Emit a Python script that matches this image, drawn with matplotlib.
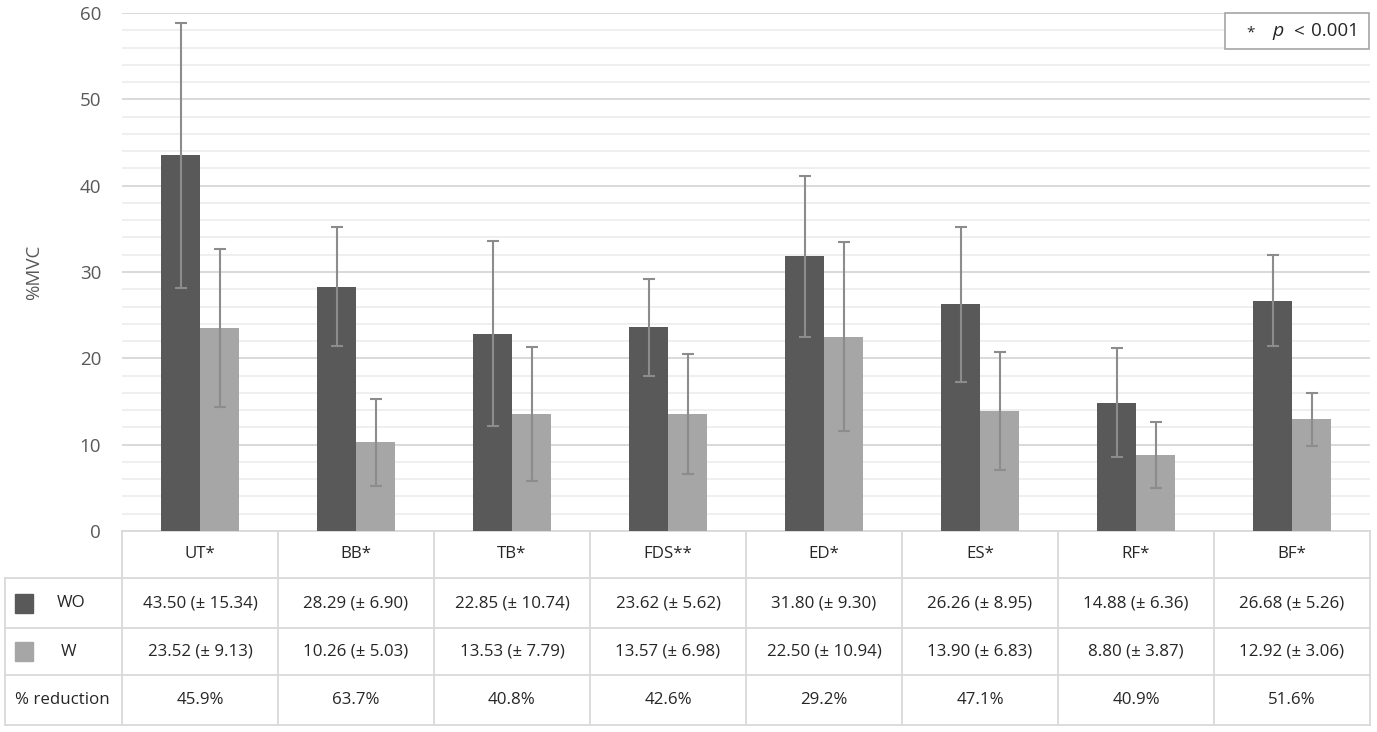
import numpy as np
import matplotlib.pyplot as plt
from matplotlib.patches import Rectangle

plt.rcParams['font.family'] = ['Open Sans', 'DejaVu Sans']

#%% data
muscles = ['UT*', 'BB*', 'TB*', 'FDS**', 'ED*', 'ES*', 'RF*', 'BF*']
woMean = [43.50, 28.29, 22.85, 23.62, 31.80, 26.26, 14.88, 26.68]
woSD = [15.34, 6.90, 10.74, 5.62, 9.30, 8.95, 6.36, 5.26]
wMean = [23.52, 10.26, 13.53, 13.57, 22.50, 13.90, 8.80, 12.92]
wSD = [9.13, 5.03, 7.79, 6.98, 10.94, 6.83, 3.87, 3.06]
reduction = ['45.9%', '63.7%', '40.8%', '42.6%', '29.2%', '47.1%', '40.9%', '51.6%']
yTicks = [0, 10, 20, 30, 40, 50, 60]

W, H = 1377, 732
darkC = '#595959'
lightC = '#a6a6a6'
gridC = '#d9d9d9'
textC = '#262626'

fig = plt.figure(figsize=(W / 100, H / 100), dpi=100)

#%% bar axes
x0, x1, yTop, yBot = 122, 1370, 13, 531
ax = fig.add_axes([x0 / W, 1 - yBot / H, (x1 - x0) / W, (yBot - yTop) / H])
x = np.arange(len(muscles))
bw = 0.25
errKw = dict(ecolor='#8c8c8c', elinewidth=1.5, capsize=4, capthick=1.5)
ax.bar(x - bw / 2, woMean, bw, yerr=woSD, color=darkC, error_kw=errKw, zorder=3)
ax.bar(x + bw / 2, wMean, bw, yerr=wSD, color=lightC, error_kw=errKw, zorder=3)

ax.set_xlim(-0.5, len(muscles) - 0.5)
ax.set_ylim(0, 60)
ax.set_yticks(yTicks)
ax.set_yticks(np.arange(0, 61, 2), minor=True)
ax.grid(axis='y', which='major', color='#d9d9d9', linewidth=1.4, zorder=0)
ax.grid(axis='y', which='minor', color='#ececec', linewidth=1.2, zorder=0)
ax.set_xticks([])
for s in ax.spines.values():
    s.set_visible(False)
ax.tick_params(axis='y', which='both', length=0, pad=15, labelsize=13.5, labelcolor=darkC)
ax.set_ylabel('%MVC', fontsize=13.5, color=darkC, labelpad=26)

#%% table overlay in pixel coords
tb = fig.add_axes([0, 0, 1, 1], zorder=-1)
tb.set_xlim(0, W)
tb.set_ylim(H, 0)
tb.axis('off')

colW = (x1 - x0) / len(muscles)
rows = [531, 578, 628, 675, 725]
lw = 1.3
tb.plot([x0, x1], [rows[0], rows[0]], color=gridC, lw=lw)
for r in rows[1:]:
    tb.plot([5, x1], [r, r], color=gridC, lw=lw)
tb.plot([5, 5], [rows[1], rows[-1]], color=gridC, lw=lw)
for i in range(len(muscles) + 1):
    xx = x0 + i * colW
    tb.plot([xx, xx], [rows[0], rows[-1]], color=gridC, lw=lw)

mid = [(rows[i] + rows[i + 1]) / 2 for i in range(4)]
fs = 12.2
for i, m in enumerate(muscles):
    cx = x0 + (i + 0.5) * colW
    tb.text(cx, mid[0], m, ha='center', va='center', fontsize=fs, color=textC)
    tb.text(cx, mid[1], f'{woMean[i]:.2f} (± {woSD[i]:.2f})', ha='center', va='center', fontsize=fs, color=textC)
    tb.text(cx, mid[2], f'{wMean[i]:.2f} (± {wSD[i]:.2f})', ha='center', va='center', fontsize=fs, color=textC)
    tb.text(cx, mid[3], reduction[i], ha='center', va='center', fontsize=fs, color=textC)

tb.add_patch(Rectangle((15, mid[1] - 9.5), 18, 19, color=darkC))
tb.add_patch(Rectangle((15, mid[2] - 9.5), 18, 19, color=lightC))
tb.text(71, mid[1], 'WO', ha='center', va='center', fontsize=fs, color=textC)
tb.text(69, mid[2], 'W', ha='center', va='center', fontsize=fs, color=textC)
tb.text(62, mid[3], '% reduction', ha='center', va='center', fontsize=fs, color=textC)

#%% p-value box on top
top = fig.add_axes([0, 0, 1, 1], zorder=5)
top.set_xlim(0, W)
top.set_ylim(H, 0)
top.axis('off')
top.add_patch(Rectangle((1225, 13), 144, 36, fc='white', ec='#a6a6a6', lw=1.2))
top.text(1251, 33, '*', ha='center', va='center', fontsize=11, color=textC)
top.text(1278, 31, 'p', ha='center', va='center', fontsize=14, style='italic', color=textC)
top.text(1299, 31, '<', ha='center', va='center', fontsize=13.5, color=textC)
top.text(1335, 31, '0.001', ha='center', va='center', fontsize=13.5, color=textC)

fig.savefig('out.png', dpi=100)
